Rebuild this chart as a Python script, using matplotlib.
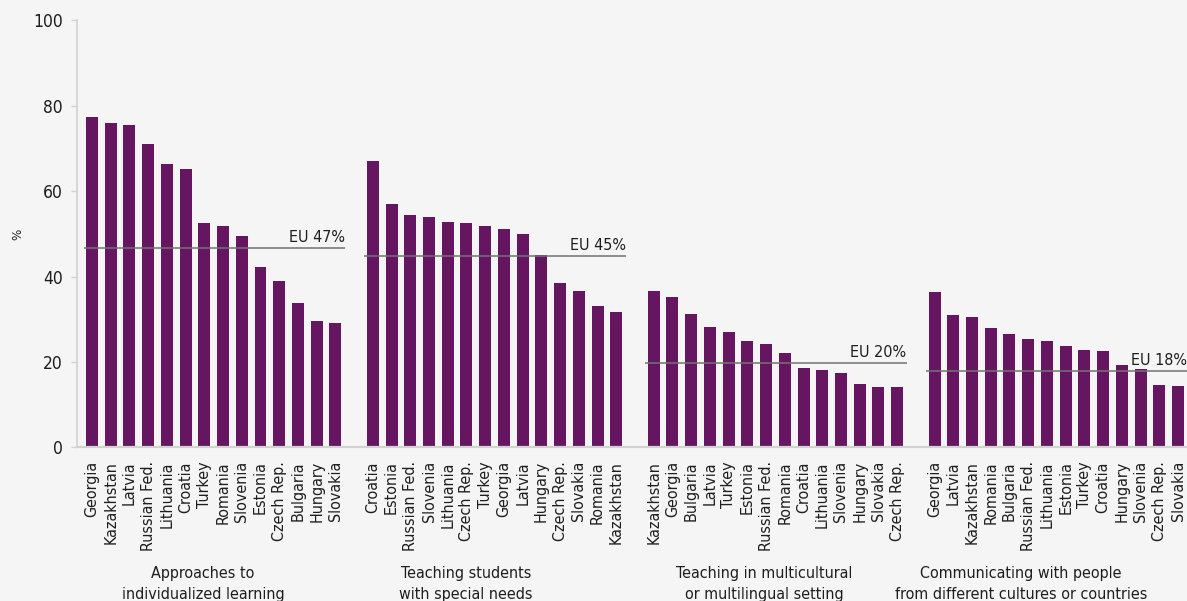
import matplotlib
matplotlib.use("Agg")
import matplotlib.pyplot as plt

plt.rcParams["font.family"] = ["DejaVu Sans"]
plt.rcParams["font.stretch"] = "condensed"

# ---- data -------------------------------------------------------------
groups = [
    "Approaches to\nindividualized learning",
    "Teaching students\nwith special needs",
    "Teaching in multicultural\nor multilingual setting",
    "Communicating with people\nfrom different cultures or countries",
]

countries_1 = ["Georgia", "Kazakhstan", "Latvia", "Russian Fed.", "Lithuania",
               "Croatia", "Turkey", "Romania", "Slovenia", "Estonia",
               "Czech Rep.", "Bulgaria", "Hungary", "Slovakia"]
values_1 = [77.3, 75.9, 75.4, 71.0, 66.3, 65.1, 52.5, 51.8, 49.6, 42.2,
            38.9, 33.7, 29.5, 29.0]

countries_2 = ["Croatia", "Estonia", "Russian Fed.", "Slovenia", "Lithuania",
               "Czech Rep.", "Turkey", "Georgia", "Latvia", "Hungary",
               "Czech Rep.", "Slovakia", "Romania", "Kazakhstan"]
values_2 = [67.0, 57.0, 54.4, 53.9, 52.7, 52.5, 51.8, 51.1, 49.9, 45.0,
            38.5, 36.6, 33.1, 31.7]

countries_3 = ["Kazakhstan", "Georgia", "Bulgaria", "Latvia", "Turkey",
               "Estonia", "Russian Fed.", "Romania", "Croatia", "Lithuania",
               "Slovenia", "Hungary", "Slovakia", "Czech Rep."]
values_3 = [36.6, 35.2, 31.2, 28.2, 27.0, 24.9, 24.2, 22.1, 18.6, 18.1,
            17.4, 14.8, 14.1, 14.1]

countries_4 = ["Georgia", "Latvia", "Kazakhstan", "Romania", "Bulgaria",
               "Russian Fed.", "Lithuania", "Estonia", "Turkey", "Croatia",
               "Hungary", "Slovenia", "Czech Rep.", "Slovakia"]
values_4 = [36.4, 31.0, 30.5, 27.9, 26.5, 25.4, 24.9, 23.7, 22.8, 22.6,
            19.3, 18.4, 14.6, 14.4]

eu_values = [46.6, 44.7, 19.7, 17.9]
eu_labels = ["EU 47%", "EU 45%", "EU 20%", "EU 18%"]

# x position (in bar slots) where each group title is centred
title_x = [5.93, 19.98, 35.9, 49.6]

# ---- style ------------------------------------------------------------
BG = "#f5f5f5"
BAR = "#661660"
TXT = "#1e1e1e"
SPINE = "#d2d2d2"

all_countries = [countries_1, countries_2, countries_3, countries_4]
all_values = [values_1, values_2, values_3, values_4]

fig = plt.figure(figsize=(11.87, 6.01), dpi=100, facecolor=BG)
ax = fig.add_axes([77 / 1187, (601 - 447.3) / 601, 1 - 77 / 1187, (447.3 - 20.3) / 601])
ax.set_facecolor(BG)

positions, labels = [], []
for g, (names, vals) in enumerate(zip(all_countries, all_values)):
    start = g * 15
    xs = [start + i for i in range(len(vals))]
    ax.bar(xs, vals, width=0.64, color=BAR, zorder=2)
    positions += xs
    labels += names

    # EU reference line + label
    x0, x1 = start - 0.45, start + 13.5
    ax.plot([x0, x1], [eu_values[g], eu_values[g]], color="#727272", lw=1.1,
            zorder=3, solid_capstyle="butt")
    ax.text(x1, eu_values[g] + 1.4, eu_labels[g], ha="right", va="baseline",
            fontsize=11.5, color=TXT, zorder=4)

    # group title below the country names
    line1, line2 = groups[g].split("\n")
    ax.annotate(line1, xy=(title_x[g], 23), xycoords=("data", "figure pixels"),
                ha="center", va="baseline", fontsize=11.5, color=TXT,
                annotation_clip=False)
    ax.annotate(line2, xy=(title_x[g], 2), xycoords=("data", "figure pixels"),
                ha="center", va="baseline", fontsize=11.5, color=TXT,
                annotation_clip=False)

ax.set_xlim(-0.8, 58.48)
ax.set_ylim(0, 100)
ax.set_xticks(positions)
ax.set_xticklabels(labels, rotation=90, fontsize=11.5, color=TXT)
ax.set_yticks(range(0, 101, 20))
ax.tick_params(axis="x", length=0, pad=10)
ax.tick_params(axis="y", length=4, width=1, color=SPINE, labelsize=12.5,
               labelcolor=TXT, pad=6)

for side in ("top", "right"):
    ax.spines[side].set_visible(False)
ax.spines["left"].set_color(SPINE)
ax.spines["left"].set_linewidth(1.2)
ax.spines["bottom"].set_color(SPINE)
ax.spines["bottom"].set_linewidth(1.6)

fig.text(18 / 1187, 1 - 234 / 601, "%", rotation=90, ha="center", va="center",
         fontsize=9.5, color=TXT)

fig.savefig("out.png", dpi=100, facecolor=BG)
